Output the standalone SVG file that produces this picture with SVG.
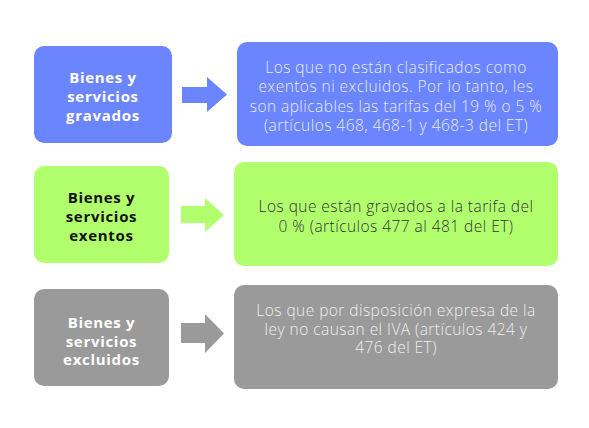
<svg xmlns="http://www.w3.org/2000/svg" width="589" height="428" viewBox="0 0 589 428">
<style>
.lbl{font-family:"Open Sans","Liberation Sans",sans-serif;font-weight:700;font-size:15px;letter-spacing:0.7px;text-anchor:middle}
.desc{font-family:"Open Sans","Liberation Sans",sans-serif;font-weight:300;font-size:15.5px;letter-spacing:0.45px;text-anchor:middle}
.blue{fill:#6b85ff}.green{fill:#b2ff6e}.gray{fill:#9a9a9a}
</style>
<rect width="589" height="428" fill="#ffffff"/>
<g id="gravados">
<rect class="blue" x="34" y="46" width="138" height="97" rx="10"/>
<text class="lbl" fill="#ffffff" x="103" y="83">Bienes y</text>
<text class="lbl" fill="#ffffff" x="103" y="102">servicios</text>
<text class="lbl" fill="#ffffff" x="103" y="121">gravados</text>
</g>
<g id="gravados-desc">
<rect class="blue" x="237" y="42" width="321" height="104" rx="10"/>
<text class="desc" fill="#e6eaff" x="396" y="73">Los que no están clasificados como</text>
<text class="desc" fill="#e6eaff" x="396" y="92">exentos ni excluidos. Por lo tanto, les</text>
<text class="desc" fill="#e6eaff" x="396" y="112">son aplicables las tarifas del 19 % o 5 %</text>
<text class="desc" fill="#e6eaff" x="396" y="131">(artículos 468, 468-1 y 468-3 del ET)</text>
</g>
<g id="exentos">
<rect class="green" x="34" y="166" width="135" height="97" rx="10"/>
<text class="lbl" fill="#111111" x="101.5" y="203">Bienes y</text>
<text class="lbl" fill="#111111" x="101.5" y="222">servicios</text>
<text class="lbl" fill="#111111" x="101.5" y="241">exentos</text>
</g>
<g id="exentos-desc">
<rect class="green" x="234" y="162" width="324" height="104" rx="10"/>
<text class="desc" fill="#333333" x="396" y="212">Los que están gravados a la tarifa del</text>
<text class="desc" fill="#333333" x="396" y="232">0 % (artículos 477 al 481 del ET)</text>
</g>
<g id="excluidos">
<rect class="gray" x="34" y="289" width="135" height="97" rx="10"/>
<text class="lbl" fill="#ffffff" x="101.5" y="328">Bienes y</text>
<text class="lbl" fill="#ffffff" x="101.5" y="347">servicios</text>
<text class="lbl" fill="#ffffff" x="101.5" y="365">excluidos</text>
</g>
<g id="excluidos-desc">
<rect class="gray" x="234" y="285" width="324" height="104" rx="10"/>
<text class="desc" fill="#eeeeee" x="396" y="316">Los que por disposición expresa de la</text>
<text class="desc" fill="#eeeeee" x="396" y="334.5">ley no causan el IVA (artículos 424 y</text>
<text class="desc" fill="#eeeeee" x="396" y="353">476 del ET)</text>
</g>
<g id="connectors">
<polygon class="blue" points="182,87 207,87 207,77 227,94.5 207,112 207,103 182,103"/>
<polygon class="green" points="181,206 205,206 205,198 224,215 205,232 205,223 181,223"/>
<polygon class="gray" points="181,323 205,323 205,314 224,333.5 205,353 205,343 181,343"/>
</g>
</svg>
